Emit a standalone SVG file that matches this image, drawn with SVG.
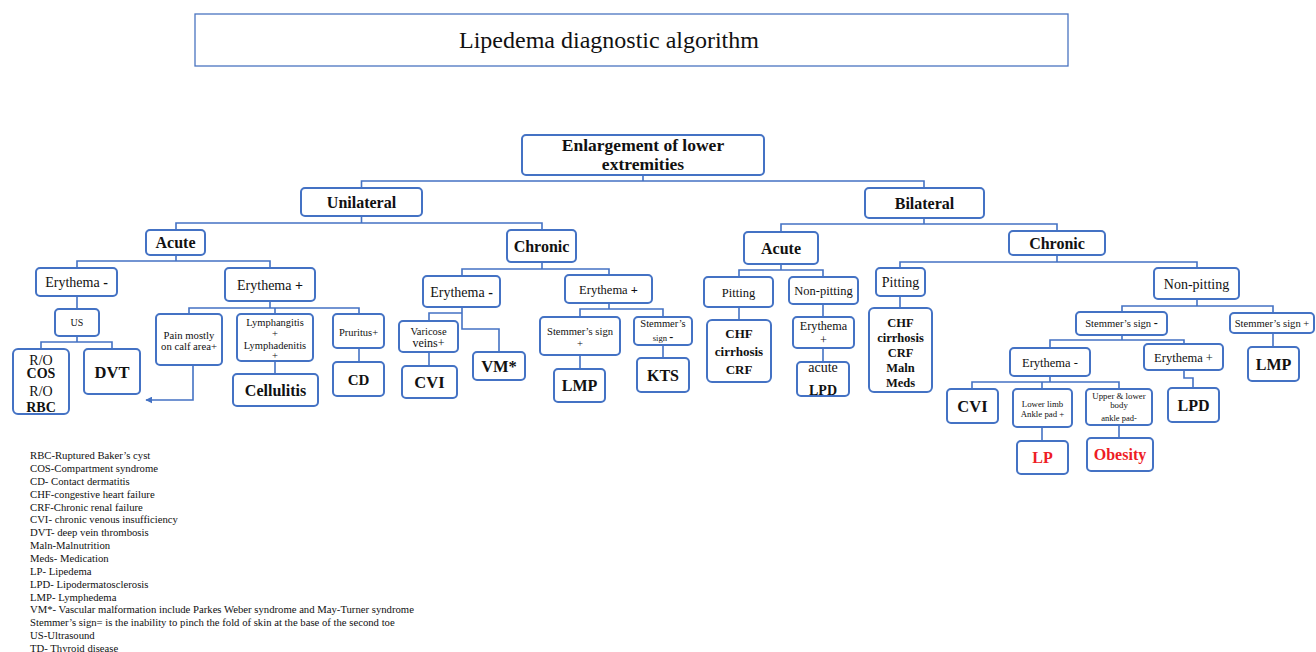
<svg xmlns="http://www.w3.org/2000/svg" width="1316" height="652" viewBox="0 0 1316 652">
<style>
text{font-family:"Liberation Serif","Times New Roman",serif;fill:#111;}
.n rect{fill:#fff;stroke:#4472c4;stroke-width:2;}
.c path{fill:none;stroke:#4472c4;stroke-width:1.6;}
.m{text-anchor:middle;}
.b{font-weight:bold;}
.red{fill:#ee1c25;}
.lg text{font-size:10.7px;}
</style>
<defs>
<marker id="ah" viewBox="0 0 10 10" refX="9" refY="5" markerWidth="7" markerHeight="7" markerUnits="userSpaceOnUse" orient="auto"><path d="M0 0L10 5L0 10z" fill="#4472c4"/></marker>
</defs>
<rect width="1316" height="652" fill="#fff"/>
<g id="title"><rect x="195" y="14" width="873" height="52" fill="#fff" stroke="#4a74c0" stroke-width="1.3"/><text x="609" y="48" class="m" font-size="24">Lipedema diagnostic algorithm</text></g>

<g class="c" id="connectors">
<path d="M643 175V181M361.5 188V181H924V188"/>
<path d="M361.5 216V223M176 230V223H542V230"/>
<path d="M924 218V224M781 232V224H1057V231"/>
<path d="M176 255V261M77 268V261H270V268"/>
<path d="M542 262V269M462 276V269H609V275"/>
<path d="M781 264V270M739 277V270H823V277"/>
<path d="M1057 255V262M900 268V262H1197V268"/>
<path d="M77 296V309"/>
<path d="M77 336V342M41 349V342H112V349"/>
<path d="M270 301V308M189 314V308H359V314M275 308V314"/>
<path d="M193 365V400H146" marker-end="url(#ah)"/>
<path d="M275 361V374"/>
<path d="M359 348V362"/>
<path d="M462 307V329H499V352M462 313H429V321"/>
<path d="M429 352V366"/>
<path d="M609 303V309M580 317V309H663V317"/>
<path d="M580 355V369"/>
<path d="M663 345V358"/>
<path d="M739 307V320"/>
<path d="M823 304V317M823 348V362"/>
<path d="M900 296V308"/>
<path d="M1197 299V306M1122 312V306H1273V313"/>
<path d="M1273 333V347"/>
<path d="M1122 335V340M1050 348V340H1184V344"/>
<path d="M1184 370V378H1193V388"/>
<path d="M1050 376V382M972 389V382H1119V389M1042 382V389"/>
<path d="M1042 427V441"/>
<path d="M1119 425V438"/>
</g>

<g class="n" id="enlargement"><rect x="522" y="135" width="242" height="40" rx="4"/><text x="643" y="151" class="m b" font-size="17.5">Enlargement of lower</text><text x="643" y="170" class="m b" font-size="17.5">extremities</text></g>
<g class="n" id="unilateral"><rect x="301" y="188" width="121" height="28" rx="4"/><text x="361.5" y="207.5" class="m b" font-size="16">Unilateral</text></g>
<g class="n" id="bilateral"><rect x="865" y="188" width="119" height="30" rx="4"/><text x="924.5" y="208.5" class="m b" font-size="16">Bilateral</text></g>
<g class="n" id="u-acute"><rect x="146" y="230" width="59" height="25" rx="4"/><text x="175.5" y="248" class="m b" font-size="16">Acute</text></g>
<g class="n" id="u-chronic"><rect x="507" y="230" width="69" height="32" rx="4"/><text x="541.5" y="251.5" class="m b" font-size="16">Chronic</text></g>
<g class="n" id="b-acute"><rect x="744" y="232" width="74" height="32" rx="4"/><text x="781" y="253.5" class="m b" font-size="16">Acute</text></g>
<g class="n" id="b-chronic"><rect x="1009" y="231" width="96" height="24" rx="4"/><text x="1057" y="248.5" class="m b" font-size="16">Chronic</text></g>

<g class="n" id="ua-ery-neg"><rect x="36" y="268" width="81" height="28" rx="4"/><text x="76.5" y="287" class="m" font-size="14">Erythema <tspan class="b">-</tspan></text></g>
<g class="n" id="ua-ery-pos"><rect x="225" y="268" width="90" height="33" rx="4"/><text x="270" y="289.5" class="m" font-size="14">Erythema <tspan class="b">+</tspan></text></g>
<g class="n" id="us"><rect x="55" y="309" width="44" height="27" rx="4"/><text x="77" y="326" class="m" font-size="10">US</text></g>
<g class="n" id="ro"><rect x="13" y="349" width="56" height="65" rx="5"/><text x="41" y="365" class="m" font-size="14">R/O</text><text x="41" y="378" class="m b" font-size="14">COS</text><text x="41" y="396" class="m" font-size="14">R/O</text><text x="41" y="412" class="m b" font-size="14">RBC</text></g>
<g class="n" id="dvt"><rect x="84" y="349" width="56" height="45" rx="4"/><text x="112" y="377.5" class="m b" font-size="16.5">DVT</text></g>
<g class="n" id="pain"><rect x="156" y="314" width="66" height="51" rx="4"/><text x="189" y="339" class="m" font-size="10.7">Pain mostly</text><text x="189" y="350" class="m" font-size="10.7">on calf area+</text></g>
<g class="n" id="lymph"><rect x="237" y="314" width="76" height="47" rx="4"/><text x="275" y="325.5" class="m" font-size="10.5">Lymphangitis</text><text x="275" y="336.5" class="m" font-size="10.5">+</text><text x="275" y="348.5" class="m" font-size="10.5">Lymphadenitis</text><text x="275" y="358.5" class="m" font-size="10.5">+</text></g>
<g class="n" id="cellulitis"><rect x="233" y="374" width="85" height="32" rx="4"/><text x="275.5" y="395.5" class="m b" font-size="16">Cellulitis</text></g>
<g class="n" id="pruritus"><rect x="333" y="314" width="51" height="34" rx="4"/><text x="358.5" y="335.5" class="m" font-size="10.5">Pruritus+</text></g>
<g class="n" id="cd"><rect x="333" y="362" width="51" height="34" rx="4"/><text x="358.5" y="384.5" class="m b" font-size="15">CD</text></g>

<g class="n" id="uc-ery-neg"><rect x="423" y="276" width="77" height="31" rx="4"/><text x="461.5" y="296.5" class="m" font-size="14">Erythema <tspan class="b">-</tspan></text></g>
<g class="n" id="uc-ery-pos"><rect x="565" y="275" width="87" height="28" rx="4"/><text x="608.5" y="293.5" class="m" font-size="12.5">Erythema <tspan class="b">+</tspan></text></g>
<g class="n" id="varicose"><rect x="399" y="321" width="59" height="31" rx="4"/><text x="428.5" y="334.5" class="m" font-size="10.5">Varicose</text><text x="428.5" y="347" class="m" font-size="12">veins+</text></g>
<g class="n" id="u-cvi"><rect x="402" y="366" width="55" height="32" rx="4"/><text x="429.5" y="388" class="m b" font-size="16.5">CVI</text></g>
<g class="n" id="vm"><rect x="473" y="352" width="52" height="28" rx="4"/><text x="499" y="372" class="m b" font-size="16.5">VM*</text></g>
<g class="n" id="uc-stem-pos"><rect x="540" y="317" width="80" height="38" rx="4"/><text x="580" y="334.5" class="m" font-size="10.6">Stemmer’s sign</text><text x="580" y="346.5" class="m" font-size="10.6">+</text></g>
<g class="n" id="u-lmp"><rect x="554" y="369" width="51" height="33" rx="4"/><text x="579.5" y="391" class="m b" font-size="16">LMP</text></g>
<g class="n" id="uc-stem-neg"><rect x="634" y="317" width="58" height="28" rx="4"/><text x="663" y="326.5" class="m" font-size="10.5">Stemmer’s</text><text x="663" y="341" class="m" font-size="8.6">sign <tspan class="b" font-size="12">-</tspan></text></g>
<g class="n" id="kts"><rect x="637" y="358" width="52" height="34" rx="4"/><text x="663" y="381" class="m b" font-size="16">KTS</text></g>

<g class="n" id="ba-pitting"><rect x="704" y="277" width="69" height="30" rx="4"/><text x="738.5" y="296.5" class="m" font-size="12.5">Pitting</text></g>
<g class="n" id="ba-nonpitting"><rect x="789" y="277" width="69" height="27" rx="4"/><text x="823.5" y="295" class="m" font-size="12.5">Non-pitting</text></g>
<g class="n" id="ba-chf"><rect x="707" y="320" width="64" height="62" rx="5"/><text x="739" y="337.5" class="m b" font-size="13">CHF</text><text x="739" y="355.5" class="m b" font-size="13">cirrhosis</text><text x="739" y="373.5" class="m b" font-size="13">CRF</text></g>
<g class="n" id="ba-ery-pos"><rect x="793" y="317" width="61" height="31" rx="4"/><text x="823.5" y="330" class="m" font-size="12.2">Erythema</text><text x="823.5" y="344" class="m" font-size="12.2">+</text></g>
<g class="n" id="acute-lpd"><rect x="797" y="362" width="52" height="34" rx="4"/><text x="823" y="372" class="m" font-size="14">acute</text><text x="823" y="395" class="m b" font-size="14">LPD</text></g>
<g class="n" id="bc-pitting"><rect x="876" y="268" width="49" height="28" rx="4"/><text x="900.5" y="287" class="m" font-size="14">Pitting</text></g>
<g class="n" id="bc-chf"><rect x="869" y="308" width="63" height="84" rx="5"/><text x="900.5" y="326.5" class="m b" font-size="12.5">CHF</text><text x="900.5" y="341.5" class="m b" font-size="12.5">cirrhosis</text><text x="900.5" y="356.5" class="m b" font-size="12.5">CRF</text><text x="900.5" y="371.5" class="m b" font-size="12.5">Maln</text><text x="900.5" y="386.5" class="m b" font-size="12.5">Meds</text></g>
<g class="n" id="bc-nonpitting"><rect x="1154" y="268" width="85" height="31" rx="4"/><text x="1196.5" y="288.5" class="m" font-size="14">Non-pitting</text></g>
<g class="n" id="bc-stem-neg"><rect x="1076" y="312" width="91" height="23" rx="4"/><text x="1121.5" y="327" class="m" font-size="10.6">Stemmer’s sign <tspan class="b" font-size="12">-</tspan></text></g>
<g class="n" id="bc-stem-pos"><rect x="1230" y="313" width="84" height="20" rx="4"/><text x="1272" y="326.5" class="m" font-size="10.6">Stemmer’s sign +</text></g>
<g class="n" id="b-lmp"><rect x="1248" y="347" width="51" height="34" rx="4"/><text x="1273.5" y="370" class="m b" font-size="16">LMP</text></g>
<g class="n" id="b-ery-neg"><rect x="1010" y="348" width="80" height="28" rx="4"/><text x="1050" y="366.5" class="m" font-size="12.5">Erythema -</text></g>
<g class="n" id="b-ery-pos"><rect x="1144" y="344" width="79" height="26" rx="4"/><text x="1183.5" y="361.5" class="m" font-size="12.5">Erythema +</text></g>
<g class="n" id="b-lpd"><rect x="1168" y="388" width="51" height="34" rx="4"/><text x="1193.5" y="411" class="m b" font-size="16">LPD</text></g>
<g class="n" id="b-cvi"><rect x="947" y="389" width="51" height="34" rx="4"/><text x="972.5" y="412" class="m b" font-size="16.5">CVI</text></g>
<g class="n" id="lowerlimb"><rect x="1013" y="389" width="59" height="38" rx="4"/><text x="1042.5" y="407" class="m" font-size="8.8">Lower limb</text><text x="1042.5" y="416.5" class="m" font-size="8.8">Ankle pad +</text></g>
<g class="n" id="upperlower"><rect x="1086" y="389" width="66" height="36" rx="4"/><text x="1119" y="399" class="m" font-size="8.8">Upper &amp; lower</text><text x="1119" y="408" class="m" font-size="8.8">body</text><text x="1119" y="421" class="m" font-size="8.5">ankle pad-</text></g>
<g class="n" id="lp"><rect x="1017" y="441" width="51" height="33" rx="4"/><text x="1042.5" y="463" class="m b red" font-size="16">LP</text></g>
<g class="n" id="obesity"><rect x="1087" y="438" width="66" height="33" rx="4"/><text x="1120" y="460" class="m b red" font-size="16">Obesity</text></g>

<g class="lg" id="legend">
<text x="30" y="459">RBC-Ruptured Baker’s cyst</text>
<text x="30" y="471.9">COS-Compartment syndrome</text>
<text x="30" y="484.7">CD- Contact dermatitis</text>
<text x="30" y="497.6">CHF-congestive heart failure</text>
<text x="30" y="510.5">CRF-Chronic renal failure</text>
<text x="30" y="523.4">CVI- chronic venous insufficiency</text>
<text x="30" y="536.2">DVT- deep vein thrombosis</text>
<text x="30" y="549.1">Maln-Malnutrition</text>
<text x="30" y="562">Meds- Medication</text>
<text x="30" y="574.8">LP- Lipedema</text>
<text x="30" y="587.7">LPD- Lipodermatosclerosis</text>
<text x="30" y="600.6">LMP- Lymphedema</text>
<text x="30" y="613.4">VM*- Vascular malformation include Parkes Weber syndrome and May-Turner syndrome</text>
<text x="30" y="626.3">Stemmer’s sign= is the inability to pinch the fold of skin at the base of the second toe</text>
<text x="30" y="639.2">US-Ultrasound</text>
<text x="30" y="652">TD- Thyroid disease</text>
</g>
</svg>
